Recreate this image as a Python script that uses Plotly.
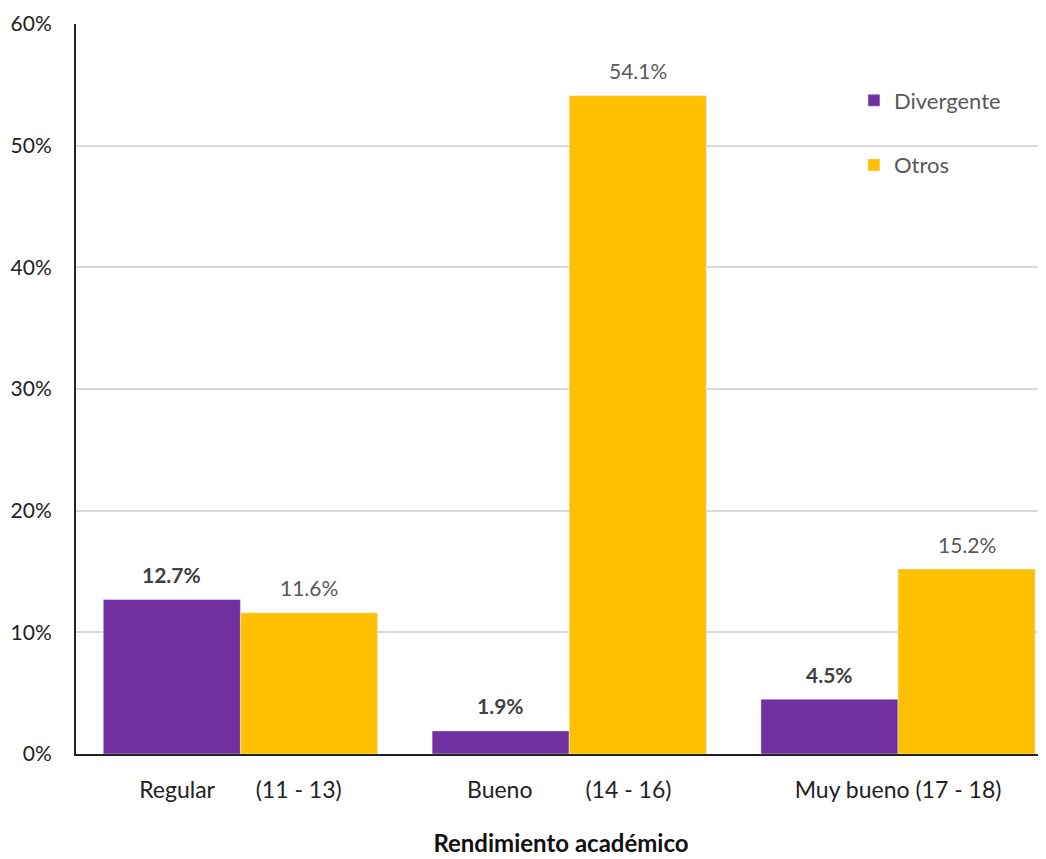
import plotly.graph_objects as go

categories = ["Regular" + "\u00a0" * 7 + "(11 - 13)", "Bueno" + "\u00a0" * 9 + "(14 - 16)", "Muy bueno (17 - 18)"]
divergente = [12.7, 1.9, 4.5]
otros = [11.6, 54.1, 15.2]
y_ticks = [0, 10, 20, 30, 40, 50, 60]
y_tick_labels = ["0%", "10%", "20%", "30%", "40%", "50%", "60%"]

FONT = "Lato, 'Open Sans', sans-serif"
x = [0, 1, 2]
BARGAP = 0.166
BW = (1 - BARGAP) / 2

fig = go.Figure()
fig.add_trace(go.Bar(x=x, y=divergente, name="Divergente", marker_color="#7030A0", legendgroup="a"))
fig.add_trace(go.Bar(x=x, y=otros, name="Otros", marker_color="#FFC000", legendgroup="b"))

for i, v in enumerate(divergente):
    fig.add_annotation(x=x[i] - BW / 2, y=v, text=f"<b>{v:.1f}%</b>", showarrow=False,
                       yanchor="middle", yshift=25,
                       font=dict(size=21, color="#404040", family=FONT))
for i, v in enumerate(otros):
    fig.add_annotation(x=x[i] + BW / 2, y=v, text=f"{v:.1f}%", showarrow=False,
                       yanchor="middle", yshift=25,
                       font=dict(size=21, color="#595959", family=FONT))

fig.update_layout(
    width=1038, height=851,
    margin=dict(l=68, r=0, t=16, b=105),
    plot_bgcolor="white", paper_bgcolor="white",
    barmode="group", bargap=BARGAP, bargroupgap=0,
    font=dict(family=FONT, size=21, color="#222222"),
    legend=dict(x=0.802, y=0.924, xanchor="left", yanchor="top",
                font=dict(size=22, color="#595959", family=FONT),
                tracegroupgap=33, bgcolor="rgba(0,0,0,0)", itemwidth=30),
    showlegend=True,
)
fig.update_xaxes(
    tickmode="array", tickvals=x, ticktext=categories,
    range=[-0.5, 2.45], showgrid=False, showline=True, linecolor="#222222",
    linewidth=2, tickfont=dict(size=23, color="#222222", family=FONT),
    title=dict(text="<b>Rendimiento académico</b>", font=dict(size=24, color="#111111", family=FONT), standoff=34),
    ticks="", ticklabelstandoff=14, automargin=False,
)
fig.update_yaxes(
    range=[0, 60], tickmode="array", tickvals=y_ticks, ticktext=y_tick_labels,
    showgrid=True, gridcolor="#D9D9D9", gridwidth=1.5,
    showline=True, linecolor="#222222", linewidth=2,
    tickfont=dict(size=21, color="#222222", family=FONT),
    ticks="", ticklabelstandoff=18, zeroline=False, automargin=False,
)

fig.write_html("out.html")
